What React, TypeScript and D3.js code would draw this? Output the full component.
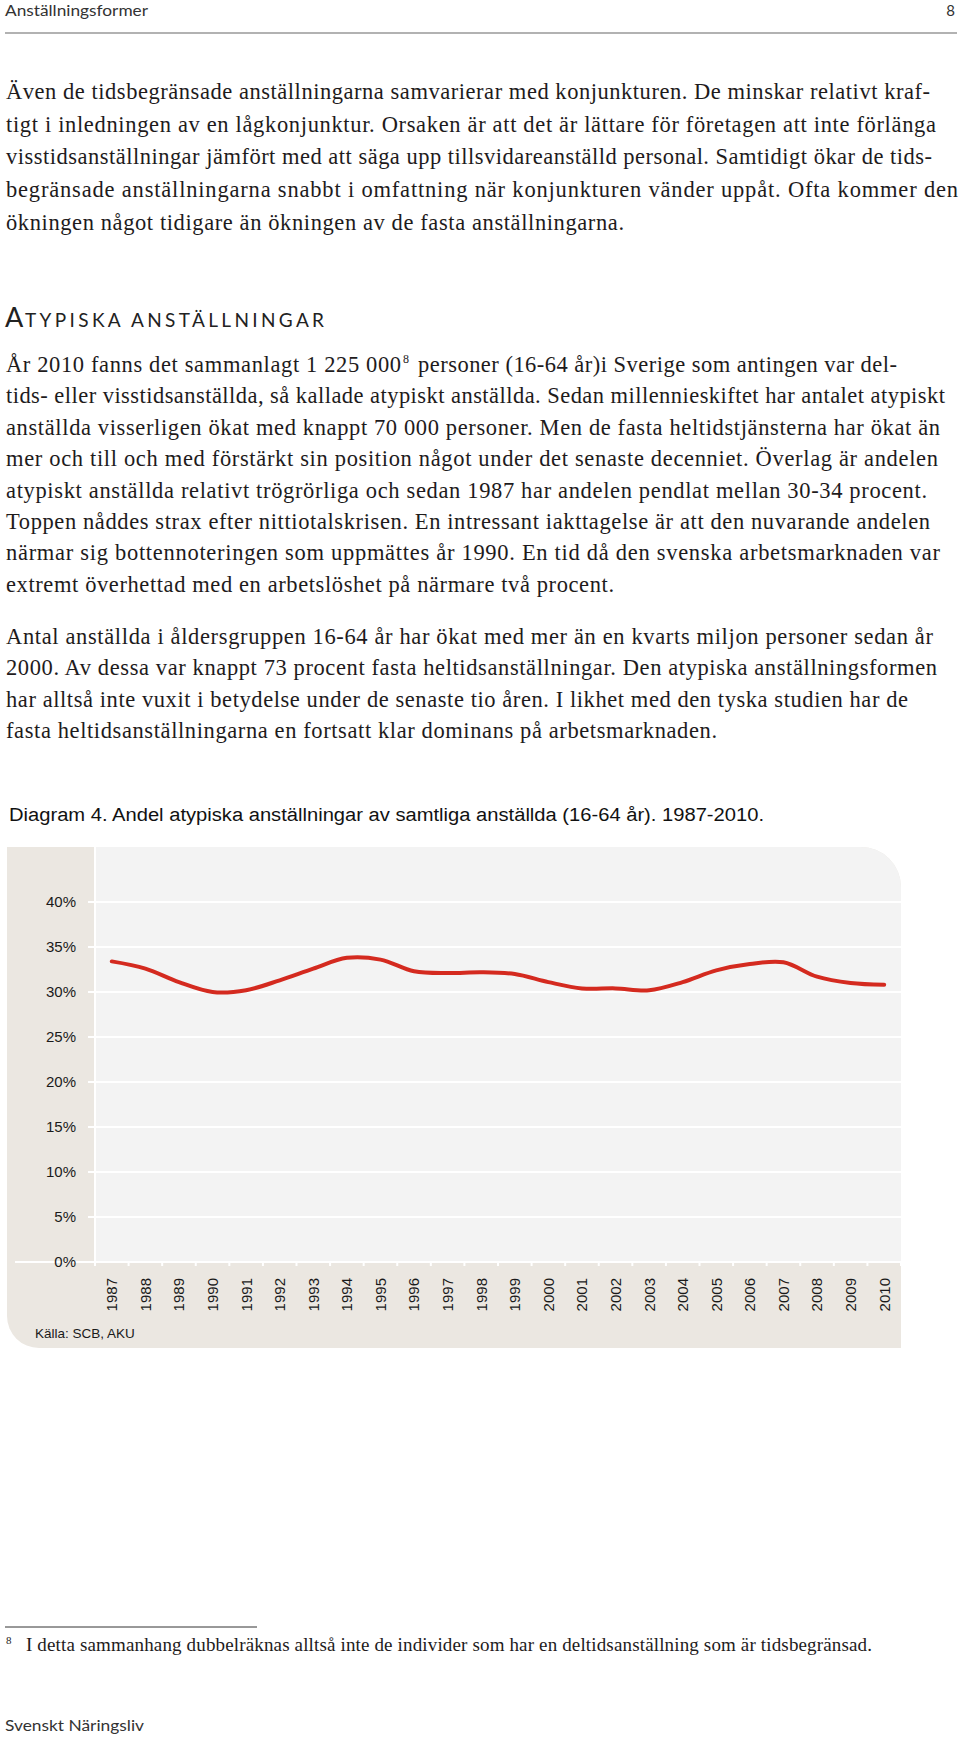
import React from 'react';
import * as d3 from 'd3';

// ---------- chart data ----------
const years = ['1987','1988','1989','1990','1991','1992','1993','1994','1995','1996','1997','1998','1999','2000','2001','2002','2003','2004','2005','2006','2007','2008','2009','2010'];
const shares = [33.4, 32.6, 31.1, 30.0, 30.2, 31.3, 32.6, 33.8, 33.6, 32.3, 32.1, 32.2, 32.0, 31.1, 30.4, 30.4, 30.2, 31.1, 32.4, 33.1, 33.3, 31.7, 31.0, 30.8];
const yTicks = [0, 5, 10, 15, 20, 25, 30, 35, 40];
const yTickLabels = ['0%', '5%', '10%', '15%', '20%', '25%', '30%', '35%', '40%'];

// ---------- page text ----------
const headerLeft = 'Anställningsformer';
const pageNumber = '8';
const para1 = [
  'Även de tidsbegränsade anställningarna samvarierar med konjunkturen. De minskar relativt kraf-',
  'tigt i inledningen av en lågkonjunktur. Orsaken är att det är lättare för företagen att inte förlänga',
  'visstidsanställningar jämfört med att säga upp tillsvidareanställd personal. Samtidigt ökar de tids-',
  'begränsade anställningarna snabbt i omfattning när konjunkturen vänder uppåt. Ofta kommer den',
  'ökningen något tidigare än ökningen av de fasta anställningarna.',
];
const para1Widths = [924, 930, 926, 952, 618];
const headingFirst = 'A';
const headingRest = 'TYPISKA ANSTÄLLNINGAR';
const para2FirstA = 'År 2010 fanns det sammanlagt 1 225 000';
const para2FirstSup = '8';
const para2FirstB = 'personer (16-64 år)i Sverige som antingen var del-';
const para2 = [
  'tids- eller visstidsanställda, så kallade atypiskt anställda. Sedan millennieskiftet har antalet atypiskt',
  'anställda visserligen ökat med knappt 70 000 personer. Men de fasta heltidstjänsterna har ökat än',
  'mer och till och med förstärkt sin position något under det senaste decenniet. Överlag är andelen',
  'atypiskt anställda relativt trögrörliga och sedan 1987 har andelen pendlat mellan 30-34 procent.',
  'Toppen nåddes strax efter nittiotalskrisen. En intressant iakttagelse är att den nuvarande andelen',
  'närmar sig bottennoteringen som uppmättes år 1990. En tid då den svenska arbetsmarknaden var',
  'extremt överhettad med en arbetslöshet på närmare två procent.',
];
const para2Widths = [939, 934, 932, 921, 924, 934, 608];
const para3 = [
  'Antal anställda i åldersgruppen 16-64 år har ökat med mer än en kvarts miljon personer sedan år',
  '2000. Av dessa var knappt 73 procent fasta heltidsanställningar. Den atypiska anställningsformen',
  'har alltså inte vuxit i betydelse under de senaste tio åren. I likhet med den tyska studien har de',
  'fasta heltidsanställningarna en fortsatt klar dominans på arbetsmarknaden.',
];
const para3Widths = [927, 931, 902, 711];
const chartTitle = 'Diagram 4. Andel atypiska anställningar av samtliga anställda (16-64 år). 1987-2010.';
const sourceNote = 'Källa: SCB, AKU';
const footnoteMark = '8';
const footnote = 'I detta sammanhang dubbelräknas alltså inte de individer som har en deltidsanställning som är tidsbegränsad.';
const footer = 'Svenskt Näringsliv';

const SERIF = '"Liberation Serif", "Times New Roman", serif';
const SANS = 'Lato, "Open Sans", sans-serif';
const ARIAL = '"Liberation Sans", Arial, sans-serif';
const BODY = '#1e1b1c';

export default function App() {
  const W = 960;
  const H = 1738;

  // chart frame
  const panelLeft = 7;
  const panelTop = 847;
  const plotLeft = 95;
  const plotRight = 901;
  const panelBottom = 1348;

  const y = d3.scaleLinear().domain([0, 40]).range([1262, 902]);
  const x = d3.scaleBand<string>().domain(years).range([plotLeft, plotRight]);
  const bw = x.bandwidth();
  const zeroY = y(0);

  const lineGen = d3
    .line<number>()
    .x((_, i) => (x(years[i]) as number) + bw / 2)
    .y((d) => y(d))
    .curve(d3.curveCatmullRom.alpha(0.5));

  const rTR = 40;
  const rBL = 32;
  const panelPath = [
    `M${panelLeft},${panelTop}`,
    `L${plotRight - rTR},${panelTop}`,
    `A${rTR},${rTR} 0 0 1 ${plotRight},${panelTop + rTR}`,
    `L${plotRight},${panelBottom}`,
    `L${panelLeft + rBL},${panelBottom}`,
    `A${rBL},${rBL} 0 0 1 ${panelLeft},${panelBottom - rBL}`,
    'Z',
  ].join(' ');
  const plotPath = [
    `M${plotLeft},${panelTop}`,
    `L${plotRight - rTR},${panelTop}`,
    `A${rTR},${rTR} 0 0 1 ${plotRight},${panelTop + rTR}`,
    `L${plotRight},${zeroY}`,
    `L${plotLeft},${zeroY}`,
    'Z',
  ].join(' ');

  const tickXs = years.map((yr) => x(yr) as number).concat([plotRight]);

  const textX = 6;
  const bodySize = 22.5;
  const lh1 = 32.7;
  const lh2 = 31.4;
  const p1Top = 99;
  const p2Top = 372;
  const p3Top = 644;

  return (
    <svg
      width={W}
      height={H}
      viewBox={`0 0 ${W} ${H}`}
      style={{ position: 'absolute', left: 0, top: 0, background: '#fff' }}
    >
      {/* header */}
      <text x={5} y={16} fontFamily={SANS} fontSize={15} fill="#333" textLength={143} lengthAdjust="spacingAndGlyphs">
        {headerLeft}
      </text>
      <text x={955} y={16} fontFamily={SANS} fontSize={15} fill="#333" textAnchor="end">
        {pageNumber}
      </text>
      <line x1={5} x2={957} y1={33} y2={33} stroke="#666" strokeWidth={1.2} />

      {/* paragraph 1 */}
      {para1.map((t, i) => (
        <text key={'p1' + i} x={textX} y={p1Top + i * lh1} fontFamily={SERIF} fontSize={bodySize} fill={BODY}
          textLength={para1Widths[i]} lengthAdjust="spacing">
          {t}
        </text>
      ))}

      {/* heading */}
      <text x={5} y={327} fontFamily={SANS} fontSize={27} fill="#222">
        {headingFirst}
      </text>
      <text x={25} y={327} fontFamily={SANS} fontSize={19} fill="#222" textLength={299} lengthAdjust="spacing">
        {headingRest}
      </text>

      {/* paragraph 2 */}
      <text x={textX} y={p2Top} fontFamily={SERIF} fontSize={bodySize} fill={BODY} textLength={395} lengthAdjust="spacing">
        {para2FirstA}
      </text>
      <text x={403} y={p2Top - 9} fontFamily={SERIF} fontSize={12} fill={BODY}>
        {para2FirstSup}
      </text>
      <text x={418} y={p2Top} fontFamily={SERIF} fontSize={bodySize} fill={BODY} textLength={479} lengthAdjust="spacing">
        {para2FirstB}
      </text>
      {para2.map((t, i) => (
        <text key={'p2' + i} x={textX} y={p2Top + (i + 1) * lh2} fontFamily={SERIF} fontSize={bodySize} fill={BODY}
          textLength={para2Widths[i]} lengthAdjust="spacing">
          {t}
        </text>
      ))}

      {/* paragraph 3 */}
      {para3.map((t, i) => (
        <text key={'p3' + i} x={textX} y={p3Top + i * lh2} fontFamily={SERIF} fontSize={bodySize} fill={BODY}
          textLength={para3Widths[i]} lengthAdjust="spacing">
          {t}
        </text>
      ))}

      {/* chart title */}
      <text x={9} y={821} fontFamily={ARIAL} fontSize={18} fill="#111" textLength={755} lengthAdjust="spacingAndGlyphs">
        {chartTitle}
      </text>

      {/* chart panel */}
      <path d={panelPath} fill="#ebe7e1" />
      <path d={plotPath} fill="#f3f3f3" />

      {/* gridlines */}
      {yTicks.filter((t) => t > 0).map((t) => (
        <line key={'g' + t} x1={plotLeft - 7} x2={plotRight} y1={y(t)} y2={y(t)} stroke="#fff" strokeWidth={2} />
      ))}
      {/* y axis */}
      <line x1={plotLeft} x2={plotLeft} y1={panelTop} y2={zeroY} stroke="#fff" strokeWidth={2} />
      {/* x axis */}
      <line x1={15} x2={plotRight} y1={zeroY} y2={zeroY} stroke="#fff" strokeWidth={2} />
      {tickXs.map((tx, i) => (
        <line key={'t' + i} x1={tx} x2={tx} y1={zeroY} y2={zeroY + 4} stroke="#fff" strokeWidth={2} />
      ))}

      {/* y labels */}
      {yTicks.map((t, i) => (
        <text key={'yl' + t} x={76} y={y(t)} dy="0.36em" textAnchor="end" fontFamily={ARIAL} fontSize={15} fill="#1a1a1a">
          {yTickLabels[i]}
        </text>
      ))}

      {/* x labels */}
      {years.map((yr) => (
        <text key={'xl' + yr}
          transform={`translate(${(x(yr) as number) + bw / 2},${zeroY + 16}) rotate(-90)`}
          dy="0.36em" textAnchor="end" fontFamily={ARIAL} fontSize={15} fill="#1a1a1a">
          {yr}
        </text>
      ))}

      {/* series */}
      <path d={lineGen(shares) || ''} fill="none" stroke="#d42a1f" strokeWidth={4} strokeLinecap="round" strokeLinejoin="round" />

      {/* source */}
      <text x={35} y={1338} fontFamily={ARIAL} fontSize={13.5} fill="#1a1a1a">
        {sourceNote}
      </text>

      {/* footnote */}
      <line x1={5} x2={257} y1={1627} y2={1627} stroke="#333" strokeWidth={1} />
      <text x={6} y={1644} fontFamily={SERIF} fontSize={11} fill={BODY}>
        {footnoteMark}
      </text>
      <text x={26} y={1651} fontFamily={SERIF} fontSize={19} fill={BODY} textLength={846} lengthAdjust="spacing">
        {footnote}
      </text>

      {/* footer */}
      <text x={5} y={1731} fontFamily={SANS} fontSize={15} fill="#333" textLength={139} lengthAdjust="spacingAndGlyphs">
        {footer}
      </text>
    </svg>
  );
}
